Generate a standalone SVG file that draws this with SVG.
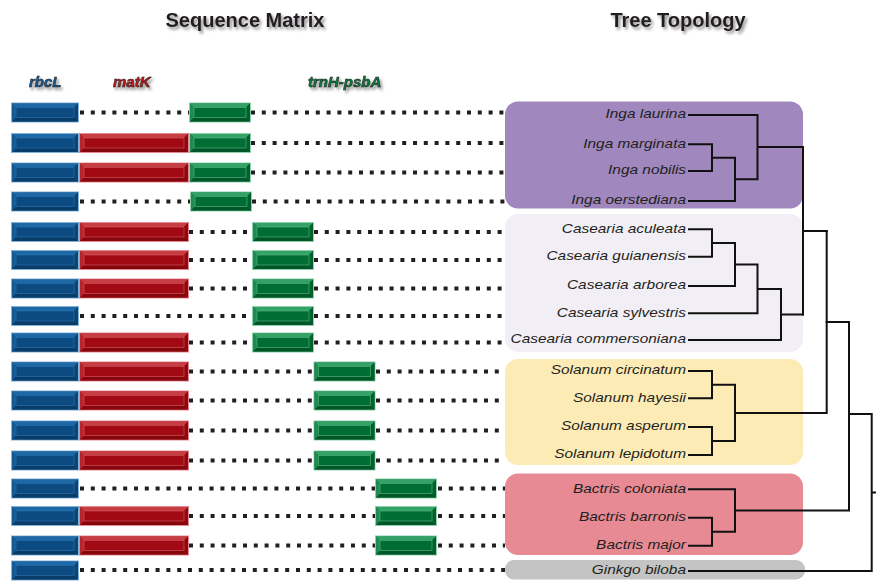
<svg xmlns="http://www.w3.org/2000/svg" xmlns:xlink="http://www.w3.org/1999/xlink" width="876" height="581" viewBox="0 0 876 581">
<style>
.title{font-family:"Liberation Sans",Arial,sans-serif;font-weight:bold;font-size:20px;fill:#231f20;text-anchor:middle}
.gene{font-family:"Liberation Sans",Arial,sans-serif;font-weight:bold;font-style:italic;font-size:15px;stroke:#1a1a1a;stroke-width:0.5}
.sp{font-family:"Liberation Sans",Arial,sans-serif;font-style:italic;font-size:13px;fill:#231f20;text-anchor:end}
.dot{stroke:#231f20;stroke-width:4;stroke-dasharray:4 6.8;fill:none}
.tree{stroke:#111;stroke-width:2;fill:none;stroke-linecap:square}
</style>
<defs>
<filter id="sh" x="-20%" y="-40%" width="140%" height="180%">
<feDropShadow dx="2" dy="2.5" stdDeviation="1.4" flood-color="#000" flood-opacity="0.45"/>
</filter>
<g id="bl">
<rect x="0.5" y="0.5" width="67" height="19" fill="#0c4d85" stroke="#86b2d6"/>
<path d="M1 1H67L63 5H5Z" fill="#1d69a7"/>
<path d="M1 19H67L63 15H5Z" fill="#083c69"/>
<path d="M1 1L5 5V15L1 19Z" fill="#145a96"/>
<path d="M67 1L63 5V15L67 19Z" fill="#0a4577"/>
<rect x="5" y="5" width="58" height="10" fill="#0c4b82" stroke="#2f72ad" stroke-width="0.6"/>
</g>
<g id="rd">
<rect x="0.5" y="0.5" width="109" height="19" fill="#a00a14" stroke="#e58a90"/>
<path d="M1 1H109L105 5H5Z" fill="#c73d44"/>
<path d="M1 19H109L105 15H5Z" fill="#86060e"/>
<path d="M1 1L5 5V15L1 19Z" fill="#b8242c"/>
<path d="M109 1L105 5V15L109 19Z" fill="#8e0810"/>
<rect x="5" y="5" width="100" height="10" fill="#a10913" stroke="#d35a61" stroke-width="0.6"/>
</g>
<g id="gr">
<rect x="0.5" y="0.5" width="61" height="19" fill="#006d35" stroke="#8fd1ab"/>
<path d="M1 1H61L57 5H5Z" fill="#34a166"/>
<path d="M1 19H61L57 15H5Z" fill="#005629"/>
<path d="M1 1L5 5V15L1 19Z" fill="#1f8a52"/>
<path d="M61 1L57 5V15L61 19Z" fill="#00602e"/>
<rect x="5" y="5" width="52" height="10" fill="#006e34" stroke="#5cb884" stroke-width="0.6"/>
</g>
</defs>
<rect width="876" height="581" fill="#fff"/>

<g id="headings">
<text class="title" x="245" y="27" filter="url(#sh)">Sequence Matrix</text>
<text class="title" x="678" y="27" filter="url(#sh)">Tree Topology</text>
<text class="gene" x="29" y="87" fill="#1a5c9a" filter="url(#sh)">rbcL</text>
<text class="gene" x="113" y="87" fill="#c4141d" filter="url(#sh)">matK</text>
<text class="gene" x="308" y="87" fill="#0b7a3b" filter="url(#sh)">trnH-psbA</text>
</g>

<g id="connectors">
<path class="dot" d="M80 112.5H189M251 112.5H505"/>
<path class="dot" d="M251 143H505"/>
<path class="dot" d="M251 172.5H505"/>
<path class="dot" d="M80 201.5H190M252 201.5H505"/>
<path class="dot" d="M189 232H252M314 232H505"/>
<path class="dot" d="M189 260H252M314 260H505"/>
<path class="dot" d="M189 288.5H252M314 288.5H505"/>
<path class="dot" d="M80 316H252M314 316H505"/>
<path class="dot" d="M189 342.5H252M314 342.5H505"/>
<path class="dot" d="M189 371.5H313M376 371.5H505"/>
<path class="dot" d="M189 400.5H313M376 400.5H505"/>
<path class="dot" d="M189 430.5H313M376 430.5H505"/>
<path class="dot" d="M189 460.5H313M376 460.5H505"/>
<path class="dot" d="M80 488.5H375M438 488.5H505"/>
<path class="dot" d="M189 516H375M438 516H505"/>
<path class="dot" d="M189 545.5H375M438 545.5H505"/>
<path class="dot" d="M80 570H505"/>
</g>

<g id="matrix">
<g id="row1"><use xlink:href="#bl" x="11" y="102.5"/><use xlink:href="#gr" x="189" y="102.5"/></g>
<g id="row2"><use xlink:href="#bl" x="11" y="133"/><use xlink:href="#rd" x="79" y="133"/><use xlink:href="#gr" x="189" y="133"/></g>
<g id="row3"><use xlink:href="#bl" x="11" y="162.5"/><use xlink:href="#rd" x="79" y="162.5"/><use xlink:href="#gr" x="189" y="162.5"/></g>
<g id="row4"><use xlink:href="#bl" x="11" y="191.5"/><use xlink:href="#gr" x="190" y="191.5"/></g>
<g id="row5"><use xlink:href="#bl" x="11" y="222"/><use xlink:href="#rd" x="79" y="222"/><use xlink:href="#gr" x="252" y="222"/></g>
<g id="row6"><use xlink:href="#bl" x="11" y="250"/><use xlink:href="#rd" x="79" y="250"/><use xlink:href="#gr" x="252" y="250"/></g>
<g id="row7"><use xlink:href="#bl" x="11" y="278.5"/><use xlink:href="#rd" x="79" y="278.5"/><use xlink:href="#gr" x="252" y="278.5"/></g>
<g id="row8"><use xlink:href="#bl" x="11" y="306"/><use xlink:href="#gr" x="252" y="306"/></g>
<g id="row9"><use xlink:href="#bl" x="11" y="332.5"/><use xlink:href="#rd" x="79" y="332.5"/><use xlink:href="#gr" x="252" y="332.5"/></g>
<g id="row10"><use xlink:href="#bl" x="11" y="361.5"/><use xlink:href="#rd" x="79" y="361.5"/><use xlink:href="#gr" x="313.5" y="361.5"/></g>
<g id="row11"><use xlink:href="#bl" x="11" y="390.5"/><use xlink:href="#rd" x="79" y="390.5"/><use xlink:href="#gr" x="313.5" y="390.5"/></g>
<g id="row12"><use xlink:href="#bl" x="11" y="420.5"/><use xlink:href="#rd" x="79" y="420.5"/><use xlink:href="#gr" x="313.5" y="420.5"/></g>
<g id="row13"><use xlink:href="#bl" x="11" y="450.5"/><use xlink:href="#rd" x="79" y="450.5"/><use xlink:href="#gr" x="313.5" y="450.5"/></g>
<g id="row14"><use xlink:href="#bl" x="11" y="478.5"/><use xlink:href="#gr" x="375" y="478.5"/></g>
<g id="row15"><use xlink:href="#bl" x="11" y="506"/><use xlink:href="#rd" x="79" y="506"/><use xlink:href="#gr" x="375" y="506"/></g>
<g id="row16"><use xlink:href="#bl" x="11" y="535.5"/><use xlink:href="#rd" x="79" y="535.5"/><use xlink:href="#gr" x="375" y="535.5"/></g>
<g id="row17"><use xlink:href="#bl" x="11" y="560.5"/></g>
</g>

<g id="clades">
<rect id="clade-inga" x="505" y="101.5" width="298" height="107" rx="13" fill="#a087bd"/>
<rect id="clade-casearia" x="505" y="214" width="298" height="138" rx="13" fill="#f2eef6"/>
<rect id="clade-solanum" x="505" y="359" width="298" height="106" rx="13" fill="#fdebb6"/>
<rect id="clade-bactris" x="505" y="473.5" width="298" height="81.5" rx="13" fill="#e78a94"/>
<rect id="clade-ginkgo" x="505" y="560" width="300" height="19.5" rx="9" fill="#c4c4c4"/>
</g>

<g id="tree">
<path class="tree" d="M689 115H757.5V115M689 144.3H712V171H689M712 157.7H735M689 201H735V157.7M735 179.3H757.5V115M757.5 147H803"/>
<path class="tree" d="M689 229.3H712V256.7H689M712 243H735V286H689M735 264.5H757.5V313.3H689M757.5 289H781V340H689M781 314.5H803"/>
<path class="tree" d="M803 147V314.5M803 231H826.7"/>
<path class="tree" d="M689 371H712V398.3H689M689 427H712V455H689M712 384.7H735V441H712M735 413H826.7V231"/>
<path class="tree" d="M826.7 322H849"/>
<path class="tree" d="M689 489.3H735V531.7H712M689 517.7H712V545.7H689M735 510.5H849V322"/>
<path class="tree" d="M849 414H871.7V571H689M871.7 492.5H876"/>
</g>

<g id="labels" transform="translate(686 0) scale(1.185 1)">
<g id="t-inga-laurina"><text class="sp" x="0" y="118.5">Inga laurina</text></g>
<g id="t-inga-marginata"><text class="sp" x="0" y="147.8">Inga marginata</text></g>
<g id="t-inga-nobilis"><text class="sp" x="0" y="174.5">Inga nobilis</text></g>
<g id="t-inga-oerstediana"><text class="sp" x="0" y="204.5">Inga oerstediana</text></g>
<g id="t-casearia-aculeata"><text class="sp" x="0" y="232.8">Casearia aculeata</text></g>
<g id="t-casearia-guianensis"><text class="sp" x="0" y="260.2">Casearia guianensis</text></g>
<g id="t-casearia-arborea"><text class="sp" x="0" y="289.5">Casearia arborea</text></g>
<g id="t-casearia-sylvestris"><text class="sp" x="0" y="316.8">Casearia sylvestris</text></g>
<g id="t-casearia-commersoniana"><text class="sp" x="0" y="343.5">Casearia commersoniana</text></g>
<g id="t-solanum-circinatum"><text class="sp" x="0" y="374.5">Solanum circinatum</text></g>
<g id="t-solanum-hayesii"><text class="sp" x="0" y="401.8">Solanum hayesii</text></g>
<g id="t-solanum-asperum"><text class="sp" x="0" y="430.5">Solanum asperum</text></g>
<g id="t-solanum-lepidotum"><text class="sp" x="0" y="458.5">Solanum lepidotum</text></g>
<g id="t-bactris-coloniata"><text class="sp" x="0" y="492.8">Bactris coloniata</text></g>
<g id="t-bactris-barronis"><text class="sp" x="0" y="521.2">Bactris barronis</text></g>
<g id="t-bactris-major"><text class="sp" x="0" y="549.2">Bactris major</text></g>
<g id="t-ginkgo-biloba"><text class="sp" x="0" y="574.5">Ginkgo biloba</text></g>
</g>
</svg>
